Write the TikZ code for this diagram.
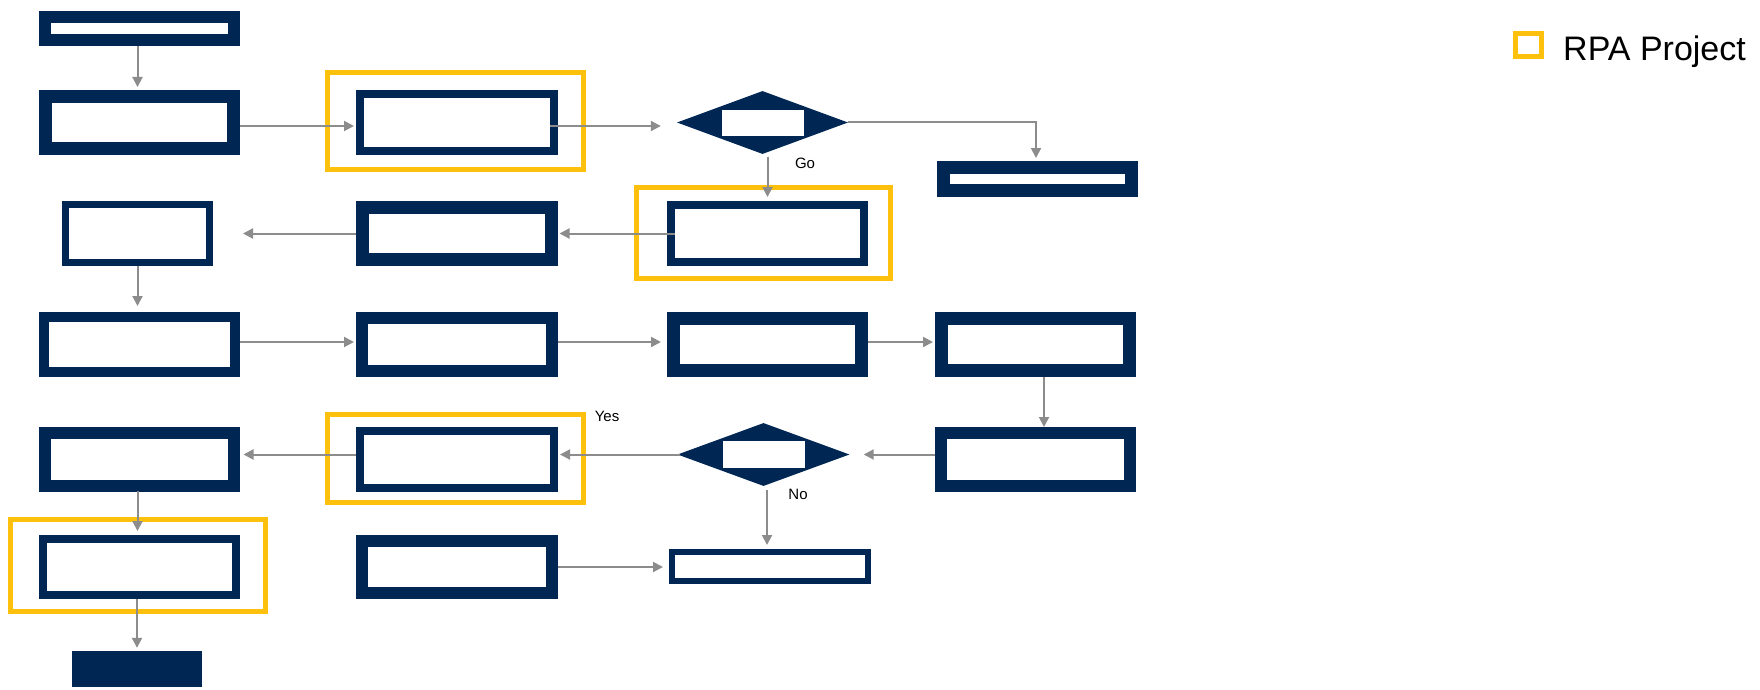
\documentclass[tikz,border=0pt]{standalone}
\usepackage{fontspec}
\setmainfont{Liberation Sans}
\usetikzlibrary{arrows.meta,shapes.geometric}
\definecolor{navy}{RGB}{0,38,84}
\definecolor{gold}{RGB}{252,192,13}
\definecolor{arrgray}{RGB}{140,140,140}
\tikzset{
  nbx/.style={rectangle, draw=navy, fill=white, inner sep=0pt},
  yframe/.style={draw=gold, line width=5pt},
  arr/.style={draw=arrgray, line width=2pt, -{Triangle[length=10pt,width=10pt]}},
  dia/.style={diamond, fill=navy, inner sep=0pt, aspect=2.7},
  win/.style={rectangle, fill=white, inner sep=0pt},
  lbl/.style={inner sep=0pt, font=\fontsize{15}{17}\selectfont},
}
\begin{document}
\begin{tikzpicture}[x=1pt,y=-1pt]
\fill[white] (0,0) rectangle (1760,690);
\useasboundingbox (0,0) rectangle (1760,690);
% yellow RPA frames
\draw[yframe] (327.5,72.5) rectangle (583.5,169.5);
\draw[yframe] (636,187.5) rectangle (890.5,278);
\draw[yframe] (327.5,414) rectangle (583.5,502);
\draw[yframe] (10.5,519.5) rectangle (265.5,611);
% boxes
\node[nbx, line width=12pt, minimum width=189pt, minimum height=23pt, outer sep=6pt] (A) at (139.5,28.5) {};
\node[nbx, line width=13pt, minimum width=188pt, minimum height=52pt, outer sep=6.5pt] (B) at (139.5,122.5) {};
\node[nbx, line width=8pt, minimum width=194pt, minimum height=57pt, outer sep=4pt] (C) at (457,122.5) {};
\node[nbx, line width=7pt, minimum width=144pt, minimum height=58pt, outer sep=3.5pt] (D) at (137.5,233.5) {};
\node[nbx, line width=13pt, minimum width=189pt, minimum height=52pt, outer sep=6.5pt] (E) at (457,233.5) {};
\node[nbx, line width=8pt, minimum width=193pt, minimum height=57pt, outer sep=4pt] (F) at (767.5,233.5) {};
\node[nbx, line width=13pt, minimum width=188pt, minimum height=23pt, outer sep=6.5pt] (G) at (1037.5,179) {};
\node[nbx, line width=10pt, minimum width=191pt, minimum height=55pt, outer sep=5pt] (H) at (139.5,344.5) {};
\node[nbx, line width=12pt, minimum width=190pt, minimum height=53pt, outer sep=6pt] (I) at (457,344.5) {};
\node[nbx, line width=13pt, minimum width=188pt, minimum height=52pt, outer sep=6.5pt] (P) at (767.5,344.5) {};
\node[nbx, line width=13pt, minimum width=188pt, minimum height=52pt, outer sep=6.5pt] (Q) at (1035.5,344.5) {};
\node[nbx, line width=12pt, minimum width=189pt, minimum height=53pt, outer sep=6pt] (R) at (1035.5,459.5) {};
\node[nbx, line width=8pt, minimum width=194pt, minimum height=57pt, outer sep=4pt] (J) at (457,459.5) {};
\node[nbx, line width=12pt, minimum width=189pt, minimum height=53pt, outer sep=6pt] (K) at (139.5,459.5) {};
\node[nbx, line width=8pt, minimum width=193pt, minimum height=56pt, outer sep=4pt] (L) at (139.5,567) {};
\node[nbx, line width=12pt, minimum width=190pt, minimum height=52pt, outer sep=6pt] (N) at (457,567) {};
\node[nbx, line width=6pt, minimum width=196pt, minimum height=29pt, outer sep=3pt] (O) at (770,566.5) {};
\node[rectangle, fill=navy, inner sep=0pt, minimum width=130pt, minimum height=36pt] (M) at (137,669) {};
% decisions
\node[dia, minimum width=171pt, minimum height=63pt] (D1) at (762.5,122.5) {};
\node[win, minimum width=82pt, minimum height=26pt] (D1w) at (763,123) {};
\node[dia, minimum width=172pt, minimum height=63pt] (D2) at (763.5,454.5) {};
\node[win, minimum width=82pt, minimum height=27pt] (D2w) at (763.5,454.5) {};
% labels
\node[lbl] (go) at (805,163) {Go};
\node[lbl] (yes) at (607,416) {Yes};
\node[lbl] (no) at (798,494) {No};
% connectors
\draw[arr, shorten >=3pt] ([xshift=-2pt]A.south) -- ([xshift=-2pt]B.north);
\draw[arr, shorten >=2pt] ([yshift=-3.5pt]B.east) -- ([yshift=-3.5pt]C.west);
\draw[arr, shorten >=16pt] ([xshift=-8pt,yshift=-3.5pt]C.east) -- ([yshift=-3.5pt]D1.west);
\draw[arr, shorten >=3pt] (D1.east) -| ([xshift=-1.5pt]G.north);
\draw[arr, shorten <=2.5pt, shorten >=4pt] (D1.south -| F.north) -- (F.north);
\draw[arr, shorten >=1.5pt] ([xshift=8pt]F.west) -- (E.east);
\draw[arr, shorten >=30pt] (E.west) -- (D.east);
\draw[arr, shorten >=6pt] (D.south) -- (D.south |- H.north);
\draw[arr, shorten >=2pt] ([yshift=2.5pt]H.east) -- ([yshift=2.5pt]I.west);
\draw[arr, shorten >=6pt] ([yshift=2.5pt]I.east) -- ([yshift=2.5pt]P.west);
\draw[arr, shorten >=2pt] ([yshift=2.5pt]P.east) -- ([yshift=2.5pt]Q.west);
\draw[arr] ([xshift=8.5pt]Q.south) -- ([xshift=8.5pt]R.north);
\draw[arr, shorten >=14pt] (R.west |- D2.east) -- (D2.east);
\draw[arr, shorten <=-3pt, shorten >=2pt] (D2.west) -- (D2.west -| J.east);
\draw[arr, shorten >=3.5pt] ([yshift=5pt]J.west) -- ([yshift=5pt]K.east);
\draw[arr, shorten <=-1.5pt, shorten >=4pt] ([xshift=-2pt]K.south) -- ([xshift=-2pt]L.north);
\draw[arr, shorten >=3pt] (L.south -| M.north) -- (M.north);
\draw[arr, shorten <=4pt, shorten >=4pt] ([xshift=3.5pt]D2.south) -- ([xshift=-3pt]O.north);
\draw[arr, shorten >=6pt] (N.east) -- (N.east -| O.west);
% legend
\draw[yframe] (1515,34) rectangle (1541.5,57);
\node[inner sep=0pt, anchor=base west, font=\fontsize{34}{37}\selectfont] (leg) at (1563,61) {RPA Project};
\end{tikzpicture}
\end{document}
